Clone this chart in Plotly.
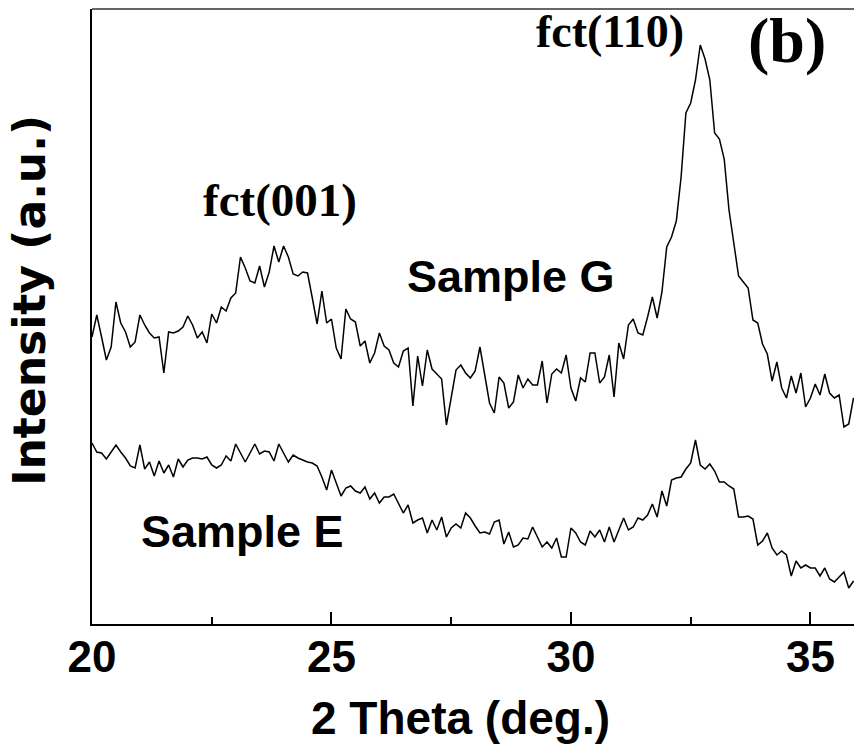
import plotly.graph_objects as go

# 2-theta grid: 20.0 .. 35.9 deg, step 0.1
two_theta = [round(20.0 + 0.1 * i, 1) for i in range(160)]

# Sample G intensity (a.u.)
sample_g = [
    287, 309, 287, 264, 277, 322, 301, 292, 277, 282,
    309, 299, 291, 286, 287, 251, 292, 291, 293, 297,
    308, 299, 286, 292, 281, 310, 301, 317, 313, 326,
    331, 367, 356, 343, 341, 358, 337, 352, 378, 362,
    378, 367, 350, 348, 352, 351, 326, 300, 333, 301,
    305, 276, 265, 315, 305, 302, 278, 283, 261, 271,
    291, 278, 274, 261, 257, 273, 276, 218, 268, 238,
    274, 255, 250, 245, 199, 226, 254, 259, 251, 246,
    253, 277, 247, 221, 211, 247, 241, 216, 222, 249,
    236, 245, 239, 239, 263, 221, 250, 255, 251, 269,
    236, 223, 246, 242, 271, 271, 241, 247, 269, 227,
    281, 265, 299, 305, 291, 289, 307, 327, 306, 332,
    377, 387, 403, 447, 511, 521, 544, 579, 565, 544,
    491, 485, 465, 414, 381, 348, 342, 336, 304, 301,
    280, 270, 243, 262, 236, 226, 248, 231, 251, 217,
    226, 240, 229, 250, 231, 226, 229, 197, 200, 226,
]

# Sample E intensity (a.u.)
sample_e = [
    181, 172, 171, 165, 172, 179, 172, 166, 158, 156,
    179, 155, 162, 148, 163, 151, 159, 147, 165, 157,
    164, 166, 166, 165, 167, 159, 156, 159, 168, 163,
    180, 171, 162, 171, 180, 170, 173, 172, 163, 180,
    171, 162, 169, 166, 164, 162, 161, 158, 147, 134,
    154, 141, 128, 136, 138, 133, 131, 137, 125, 131,
    121, 127, 127, 130, 121, 111, 119, 101, 104, 106,
    91, 104, 94, 107, 87, 96, 100, 96, 111, 106,
    98, 91, 92, 90, 102, 104, 80, 92, 77, 79,
    86, 85, 97, 87, 77, 82, 76, 86, 67, 67,
    96, 91, 82, 79, 93, 87, 94, 82, 97, 82,
    94, 106, 94, 97, 106, 104, 109, 120, 107, 133,
    118, 144, 146, 147, 155, 161, 184, 159, 155, 160,
    153, 142, 142, 138, 135, 107, 107, 108, 105, 79,
    83, 91, 76, 69, 73, 69, 48, 63, 56, 59,
    56, 56, 48, 56, 45, 42, 47, 52, 36, 43,
]

x_ticks = [20, 25, 30, 35]
x_tick_labels = ["20", "25", "30", "35"]

ARIAL = "Arial, Liberation Sans, sans-serif"
TIMES = "Times New Roman, Liberation Serif, serif"

fig = go.Figure()
fig.add_trace(go.Scatter(x=two_theta, y=sample_g, mode="lines",
                         line=dict(color="black", width=1.5), showlegend=False))
fig.add_trace(go.Scatter(x=two_theta, y=sample_e, mode="lines",
                         line=dict(color="black", width=1.5), showlegend=False))

fig.update_layout(
    width=854, height=745,
    margin=dict(l=92, r=0, t=9, b=121),
    paper_bgcolor="white", plot_bgcolor="white",
    xaxis=dict(
        range=[20, 35.91], showgrid=False, zeroline=False,
        showline=True, linecolor="black", linewidth=2,
        ticks="inside", ticklen=12, tickwidth=2, tickcolor="black",
        tickvals=x_ticks, ticktext=x_tick_labels,
        ticklabelstandoff=-7,
        tickfont=dict(family=ARIAL, size=44, color="black", weight="bold"),
        minor=dict(ticks="inside", ticklen=7, tickwidth=2, tickcolor="black",
                   tickvals=[22.5, 27.5, 32.5]),
    ),
    yaxis=dict(
        range=[0, 615], showgrid=False, zeroline=False,
        showline=True, linecolor="black", linewidth=2,
        showticklabels=False, ticks="",
    ),
    shapes=[dict(type="line", xref="paper", yref="paper", x0=0, x1=1, y0=1, y1=1,
                 line=dict(color="#333", width=1.5))],
)

annos = [
    dict(text="2 Theta (deg.)", xref="paper", yref="paper", x=0.484, y=-0.153,
         font=dict(family=ARIAL, size=46, color="black", weight="bold")),
    dict(text="Intensity (a.u.)", xref="paper", yref="paper", x=-0.0814, y=0.527,
         textangle=-90,
         font=dict(family="DejaVu Sans", size=44, color="black", weight="bold")),
    dict(text="Sample G", x=28.74, y=348,
         font=dict(family=ARIAL, size=45, color="black", weight="bold")),
    dict(text="Sample E", x=23.14, y=93,
         font=dict(family=ARIAL, size=45, color="black", weight="bold")),
    dict(text="fct(001)", x=23.92, y=424,
         font=dict(family=TIMES, size=47, color="black", weight="bold")),
    dict(text="fct(110)", x=30.81, y=593,
         font=dict(family=TIMES, size=46, color="black", weight="bold")),
    dict(text="(b)", x=34.52, y=584,
         font=dict(family=TIMES, size=64, color="black", weight="bold")),
]
for a in annos:
    a.setdefault("xref", "x")
    a.setdefault("yref", "y")
    fig.add_annotation(showarrow=False, xanchor="center", yanchor="middle", **a)

fig.write_html("out.html")
